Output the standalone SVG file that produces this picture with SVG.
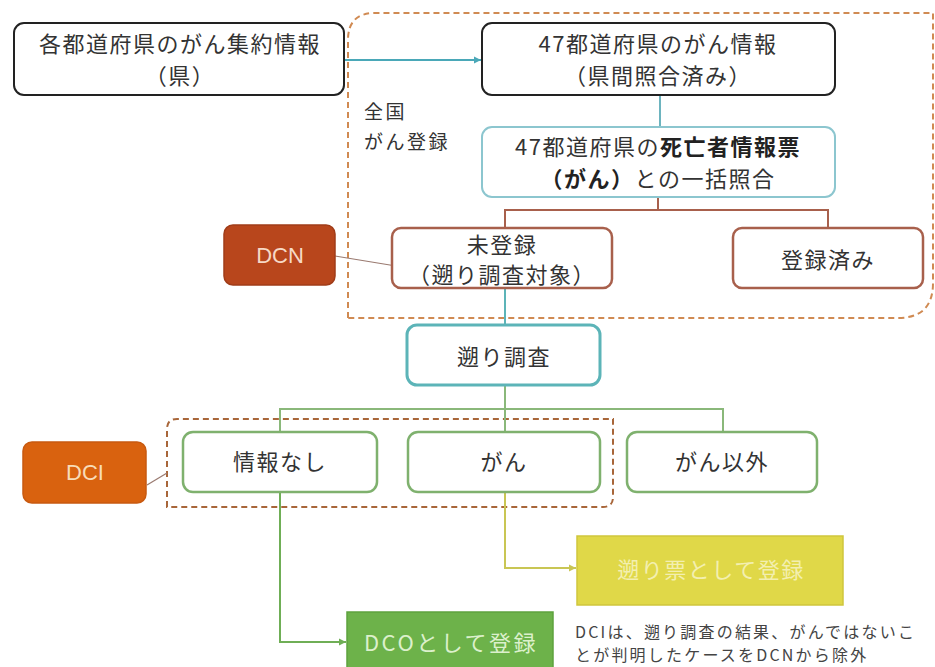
<svg xmlns="http://www.w3.org/2000/svg" width="935" height="667" viewBox="0 0 935 667">
<style>
text{font-family:"Noto Sans CJK JP","Noto Sans",sans-serif;text-anchor:middle;dominant-baseline:central;fill:#333}
.t22{font-size:22px;letter-spacing:1.5px}
.t17{font-size:19px;letter-spacing:2.5px;text-anchor:start}
.note{font-size:16px;letter-spacing:2.2px;text-anchor:start;fill:#444}
.blk{fill:#fff;stroke:#222;stroke-width:2}
.teal{fill:#fff;stroke:#8cc6cf;stroke-width:2}
.teal2{fill:#fff;stroke:#5cb4b8;stroke-width:3}
.brn{fill:#fff;stroke:#a8604c;stroke-width:2.5}
.grn{fill:#fff;stroke:#7fb16e;stroke-width:2.5}
</style>
<defs>
<marker id="aT" markerWidth="8" markerHeight="8" refX="7" refY="4" orient="auto" markerUnits="userSpaceOnUse"><path d="M0,0.5 L7,4 L0,7.5 Z" fill="#4aa8b8"/></marker>
<marker id="aG" markerWidth="8" markerHeight="8" refX="7" refY="4" orient="auto" markerUnits="userSpaceOnUse"><path d="M0,0.5 L7,4 L0,7.5 Z" fill="#6fae56"/></marker>
<marker id="aY" markerWidth="8" markerHeight="8" refX="7" refY="4" orient="auto" markerUnits="userSpaceOnUse"><path d="M0,0.5 L7,4 L0,7.5 Z" fill="#c9c654"/></marker>
</defs>
<rect width="935" height="667" fill="#fff"/>

<g id="region-national" fill="none">
<path d="M348,318 L348,40 Q348,13 375,13 L933,13 L933,283 Q933,318 898,318 Z" stroke="#d08a52" stroke-width="2" stroke-dasharray="6,4"/>
<text class="t17" x="364" y="110">全国</text>
<text class="t17" x="364" y="140">がん登録</text>
</g>
<g id="region-dci" fill="none">
<path d="M167,507 L167,429 Q167,419 177,419 L613,419 L613,497 Q613,507 603,507 Z" stroke="#a8663a" stroke-width="2" stroke-dasharray="6,4"/>
</g>

<g id="connectors" fill="none">
<line x1="344" y1="60" x2="481" y2="60" stroke="#4aa8b8" stroke-width="2" marker-end="url(#aT)"/>
<line x1="660" y1="95" x2="660" y2="127" stroke="#6db4bf" stroke-width="2"/>
<path d="M658,197 V210 M505,228 V210 H828 V228" stroke="#a8604c" stroke-width="2"/>
<line x1="335" y1="256" x2="396" y2="266" stroke="#9a7a70" stroke-width="1.2"/>
<line x1="505" y1="288" x2="505" y2="325" stroke="#5cb4b8" stroke-width="2"/>
<path d="M505,385 V432 M280,432 V409 H723 V432" stroke="#8ab87a" stroke-width="2"/>
<line x1="147" y1="485" x2="167" y2="473" stroke="#9a7a70" stroke-width="1.2"/>
<path d="M280,492 V642 H346" stroke="#6fae56" stroke-width="2" marker-end="url(#aG)"/>
<path d="M505,492 V568 H576" stroke="#c9c654" stroke-width="2" marker-end="url(#aY)"/>
</g>

<g id="n-pref">
<rect class="blk" x="14" y="23" width="330" height="72" rx="10"/>
<text class="t22" x="180" y="42">各都道府県のがん集約情報</text>
<text class="t22" x="180" y="74">（県）</text>
</g>
<g id="n-47">
<rect class="blk" x="482" y="23" width="353" height="72" rx="10"/>
<text class="t22" x="658" y="42">47都道府県のがん情報</text>
<text class="t22" x="658" y="74">（県間照合済み）</text>
</g>
<g id="n-match">
<rect class="teal" x="482" y="127" width="353" height="70" rx="10"/>
<text class="t22" x="658" y="145">47都道府県の<tspan font-weight="bold" fill="#222">死亡者情報票</tspan></text>
<text class="t22" x="658" y="177"><tspan font-weight="bold" fill="#222">（がん）</tspan>との一括照合</text>
</g>
<g id="n-unreg">
<rect class="brn" x="392" y="228" width="220" height="60" rx="9"/>
<text class="t22" x="502" y="243">未登録</text>
<text class="t22" x="502" y="273">（遡り調査対象）</text>
</g>
<g id="n-reg">
<rect class="brn" x="733" y="228" width="190" height="60" rx="9"/>
<text class="t22" x="828" y="258">登録済み</text>
</g>
<g id="n-dcn">
<rect x="224" y="225" width="111" height="60" rx="9" fill="#b8461c" stroke="#a03c18" stroke-width="1.5"/>
<text x="280" y="255" style="font-family:'Liberation Sans',sans-serif;font-size:22px;fill:#f6d9c6">DCN</text>
</g>
<g id="n-survey">
<rect class="teal2" x="407" y="325" width="193" height="60" rx="10"/>
<text class="t22" x="504" y="355">遡り調査</text>
</g>
<g id="n-noinfo">
<rect class="grn" x="183" y="432" width="194" height="60" rx="10"/>
<text class="t22" x="280" y="460">情報なし</text>
</g>
<g id="n-cancer">
<rect class="grn" x="408" y="432" width="192" height="60" rx="10"/>
<text class="t22" x="504" y="460">がん</text>
</g>
<g id="n-noncancer">
<rect class="grn" x="627" y="432" width="190" height="60" rx="10"/>
<text class="t22" x="722" y="460">がん以外</text>
</g>
<g id="n-dci">
<rect x="23" y="442" width="123" height="61" rx="9" fill="#d9620f" stroke="#c85a10" stroke-width="1.5"/>
<text x="85" y="472" style="font-family:'Liberation Sans',sans-serif;font-size:22px;fill:#f8dcb8">DCI</text>
</g>
<g id="n-retro">
<rect x="577" y="536" width="266" height="69" fill="#e0d848" stroke="#cfc63c" stroke-width="1.5"/>
<text class="t22" x="711" y="568" style="fill:#f3efb0">遡り票として登録</text>
</g>
<g id="n-dco">
<rect x="347" y="612" width="206" height="56" fill="#6db24a" stroke="#5ea23e" stroke-width="1.5"/>
<text class="t22" x="451" y="641" style="fill:#dcf0cc;letter-spacing:2.5px">DCOとして登録</text>
</g>
<g id="note">
<text class="note" x="575" y="631">DCIは、遡り調査の結果、がんではないこ</text>
<text class="note" x="575" y="654">とが判明したケースをDCNから除外</text>
</g>
</svg>
